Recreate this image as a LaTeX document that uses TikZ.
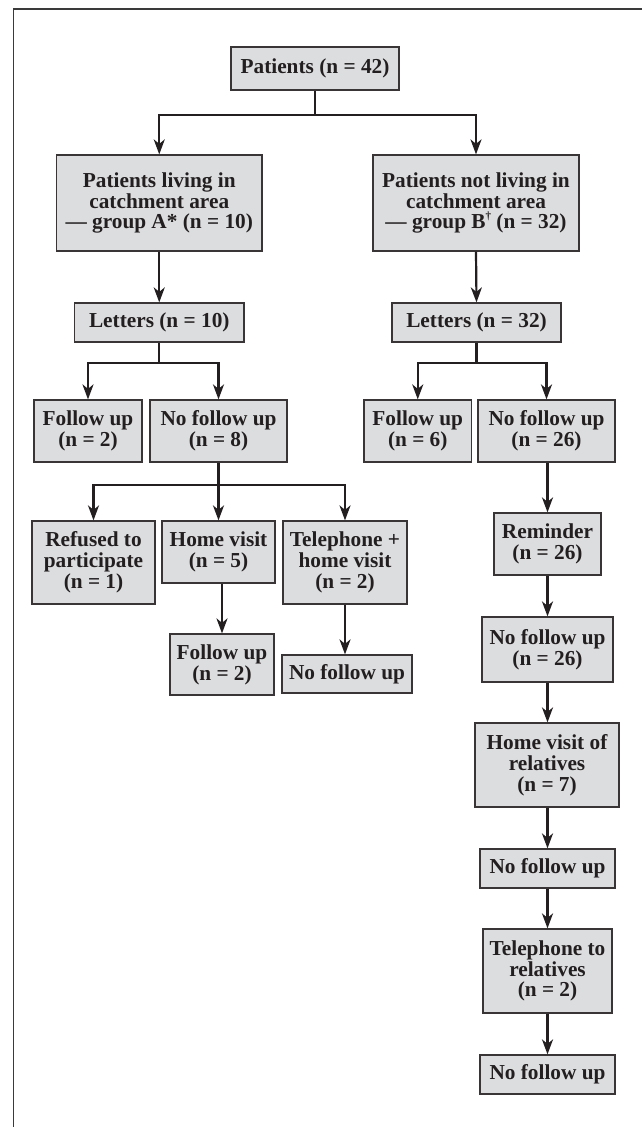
\documentclass[tikz,border=0pt]{standalone}
\usepackage{fontspec}
\setmainfont{Liberation Serif}
\usetikzlibrary{arrows.meta}
\definecolor{boxfill}{HTML}{DCDDDF}
\definecolor{ink}{HTML}{231F20}
\definecolor{frameline}{HTML}{3A3A3A}
\newcommand{\dagsup}{\raisebox{0.42em}{\fontsize{11}{11}\selectfont †}}
\begin{document}
\begin{tikzpicture}[x=1pt,y=-1pt,
  box/.style={draw=ink!90, line width=1.2pt, fill=boxfill, inner sep=0pt,
    align=center, text=ink, font=\fontsize{21.3}{20.8}\selectfont\bfseries},
  conn/.style={draw=ink, line width=2.2pt},
  arr/.style={conn, -{Stealth[length=15pt,width=11pt,inset=4.5pt]}}]
\useasboundingbox (0,0) rectangle (642,1127);
\fill[white] (0,0) rectangle (642,1127);
\draw[frameline, line width=1.4pt] (13.5,1127) -- (13.5,9) -- (642,9);

% nodes
\node[box, minimum width=168pt, minimum height=43pt] (pat) at (315,68.5) {Patients (n = 42)};
\node[box, minimum width=205.5pt, minimum height=96pt] (ga) at (159.25,203) {Patients living in\\catchment area\\— group A* (n = 10)};
\node[box, minimum width=206pt, minimum height=96pt] (gb) at (476,203) {Patients not living in\\catchment area\\— group B\dagsup{} (n = 32)};
\node[box, minimum width=169.5pt, minimum height=39pt] (la) at (159.25,322.5) {Letters (n = 10)};
\node[box, minimum width=169pt, minimum height=39pt] (lb) at (476.5,322.5) {Letters (n = 32)};
\node[box, minimum width=108pt, minimum height=62pt] (fa) at (88,431) {Follow up\\(n = 2)};
\node[box, minimum width=137pt, minimum height=62pt] (nfa) at (218.5,431) {No follow up\\(n = 8)};
\node[box, minimum width=107.5pt, minimum height=62pt] (fb) at (417.75,431) {Follow up\\(n = 6)};
\node[box, minimum width=137pt, minimum height=62pt] (nfb) at (546.5,431) {No follow up\\(n = 26)};
\node[box, minimum width=123pt, minimum height=83pt] (ref) at (93.5,562.5) {Refused to\\participate\\(n = 1)};
\node[box, minimum width=113pt, minimum height=62pt] (hv) at (218.5,552) {Home visit\\(n = 5)};
\node[box, minimum width=124pt, minimum height=83pt] (tel) at (345,562.5) {Telephone +\\home visit\\(n = 2)};
\node[box, minimum width=104pt, minimum height=61pt] (fu2) at (222,664.5) {Follow up\\(n = 2)};
\node[box, minimum width=130pt, minimum height=38pt] (nfl) at (347,674) {No follow up};
\node[box, minimum width=107pt, minimum height=62pt] (rem) at (547.5,544) {Reminder\\(n = 26)};
\node[box, minimum width=131pt, minimum height=65pt] (nf26) at (547.5,649.5) {No follow up\\(n = 26)};
\node[box, minimum width=144pt, minimum height=84pt] (hvr) at (547,765) {Home visit of\\relatives\\(n = 7)};
\node[box, minimum width=135pt, minimum height=39pt] (nf3) at (547.5,868.5) {No follow up};
\node[box, minimum width=129pt, minimum height=84pt] (tr) at (547.5,971) {Telephone to\\relatives\\(n = 2)};
\node[box, minimum width=135pt, minimum height=39pt] (nf4) at (547.5,1074.5) {No follow up};

% junction coordinates
\coordinate (j0) at (315,115);
\coordinate (ja) at (159.25,363);
\coordinate (jb) at (476.5,363);
\coordinate (jn) at (218.5,485);

% connectors
\draw[conn] (pat.south) -- (j0);
\draw[arr] (j0) -| (ga.north);
\draw[arr] (j0) -| (gb.north);
\draw[arr] (ga.south) -- (la.north);
\draw[arr] (gb.south) -- (lb.north);
\draw[conn] (la.south) -- (ja);
\draw[arr] (ja) -| (fa.north);
\draw[arr] (ja) -| (nfa.north);
\draw[conn] (lb.south) -- (jb);
\draw[arr] (jb) -| (fb.north);
\draw[arr] (jb) -| (nfb.north);
\draw[conn] (nfa.south) -- (jn);
\draw[arr] (jn) -| (ref.north);
\draw[arr] (jn) -- (hv.north);
\draw[arr] (jn) -| (tel.north);
\draw[arr] (hv.south -| fu2.north) -- (fu2.north);
\draw[arr] (tel.south) -- (tel.south |- nfl.north);
\draw[arr] (nfb.south -| rem.north) -- (rem.north);
\draw[arr] (rem.south) -- (nf26.north);
\draw[arr] (nf26.south) -- (hvr.north -| nf26.south);
\draw[arr] (hvr.south -| nf3.north) -- (nf3.north);
\draw[arr] (nf3.south) -- (tr.north);
\draw[arr] (tr.south) -- (nf4.north);
\end{tikzpicture}
\end{document}
